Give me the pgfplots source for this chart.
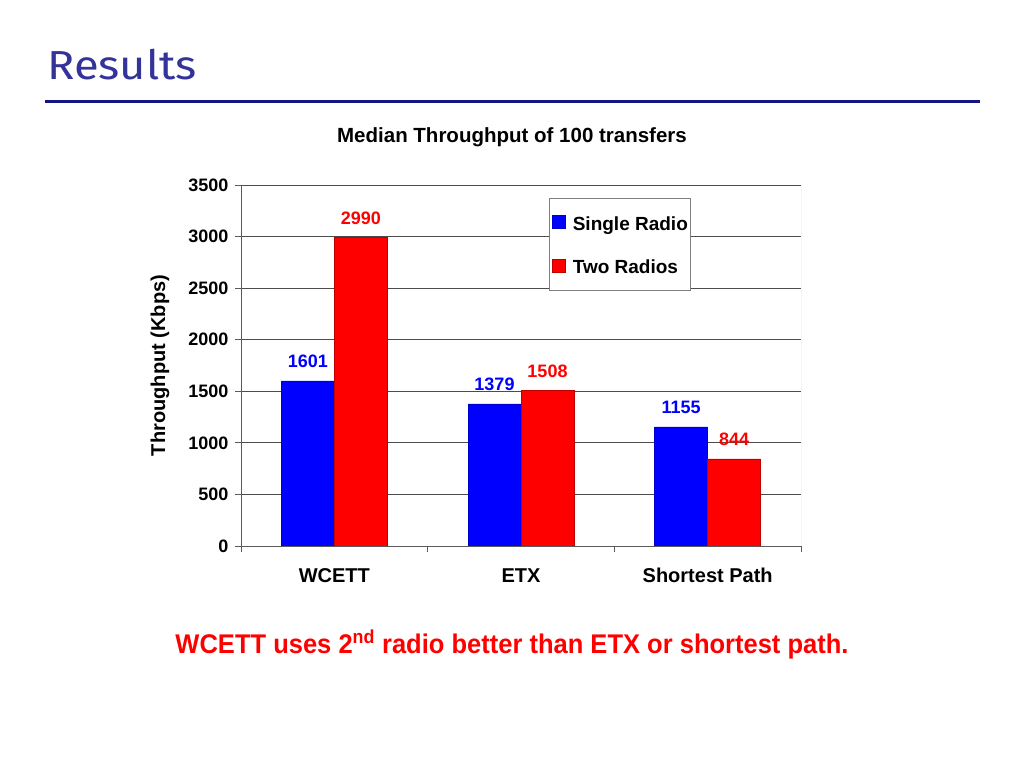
\documentclass[border=0pt]{standalone}
\usepackage{fontspec}
\setmainfont{Liberation Sans}
\newfontfamily\titlefont[FakeStretch=1.12]{Fira Sans}
\newfontfamily\narrowfont[FakeStretch=0.945]{Liberation Sans}
\usepackage{pgfplots}
\pgfplotsset{compat=1.18}
\definecolor{slideblue}{RGB}{51,51,153}
\definecolor{rulecol}{RGB}{20,20,130}
\definecolor{barblue}{RGB}{0,0,255}
\definecolor{barred}{RGB}{255,0,0}
\definecolor{axgray}{RGB}{90,90,90}

\begin{document}
\begin{tikzpicture}
\useasboundingbox (0,0) rectangle (1024pt,768pt);
\fill[white] (0,0) rectangle (1024pt,768pt);

% slide heading
\node[anchor=base west, inner sep=0pt, text=slideblue,
      font=\titlefont\fontsize{40.5}{44}\selectfont] at (47pt,688pt) {Results};
\draw[rulecol, line width=3pt] (45pt,666pt) -- (980pt,666pt);

% chart title
\node[inner sep=0pt, font=\bfseries\fontsize{20.5}{22}\selectfont]
  at (512pt,631pt) {Median Throughput of 100 transfers};

\begin{axis}[
    width=560pt, height=361pt, scale only axis,
    at={(241pt,222pt)}, anchor=south west,
    xmin=-0.5, xmax=2.5, ymin=0, ymax=3500,
    ybar=0pt, bar width=53pt,
    axis x line*=bottom, axis y line*=left,
    axis line style={axgray, line width=0.8pt},
    tick align=outside, major tick length=6pt,
    tick style={axgray, line width=0.8pt},
    ytick={0,500,...,3500},
    ymajorgrids, grid style={black!70, line width=0.8pt},
    xtick={-0.5,0.5,1.5,2.5}, xticklabels={},
    extra x ticks={0,1,2},
    extra x tick labels={WCETT,ETX,Shortest Path},
    extra x tick style={grid=none, major tick length=0pt},
    x tick label style={font=\bfseries\fontsize{20}{20}\selectfont,
                        text height=14pt, text depth=0pt, yshift=-19pt},
    y tick label style={font=\bfseries\fontsize{18}{18}\selectfont, xshift=-3pt},
    /pgf/number format/assume math mode=true,
    /pgf/number format/1000 sep={},
    ylabel={Throughput (Kbps)},
    ylabel style={font=\bfseries\fontsize{20}{20}\selectfont,
                  at={(rel axis cs:-0.1446,0.5)}, anchor=center},
    every node near coord/.append style={font=\bfseries\fontsize{18}{18}\selectfont,
                  anchor=south, inner sep=0pt, yshift=13pt},
    legend image code/.code={\draw[#1, line width=0.4pt] (0pt,-5pt) rectangle (13pt,8pt);},
    legend cell align=left,
    legend style={at={(rel axis cs:0.55,0.964)}, anchor=north west,
                  draw=gray, fill=white, line width=0.8pt,
                  font=\bfseries\fontsize{19}{19}\selectfont,
                  inner xsep=3pt, inner ysep=17pt, row sep=28pt,
                  nodes={inner sep=0pt, text height=14pt, text depth=0pt},
                  /tikz/every odd column/.append style={column sep=7pt}},
]
\addplot[fill=barblue, draw=barblue!80!black, line width=0.4pt,
         nodes near coords, every node near coord/.append style={text=barblue}]
  coordinates {(0,1601) (1,1379) (2,1155)};
\addplot[fill=barred, draw=barred!75!black, line width=0.4pt,
         nodes near coords, every node near coord/.append style={text=barred}]
  coordinates {(0,2990) (1,1508) (2,844)};
\legend{Single Radio, Two Radios}
\draw[gray!45, line width=0.8pt] (rel axis cs:1,0) -- (rel axis cs:1,1);
\end{axis}

% caption
\node[anchor=base, inner sep=0pt, text=barred,
      font=\narrowfont\bfseries\fontsize{27}{30}\selectfont]
  at (512pt,115pt) {WCETT uses 2\textsuperscript{nd} radio better than ETX or shortest path.};
\end{tikzpicture}
\end{document}
